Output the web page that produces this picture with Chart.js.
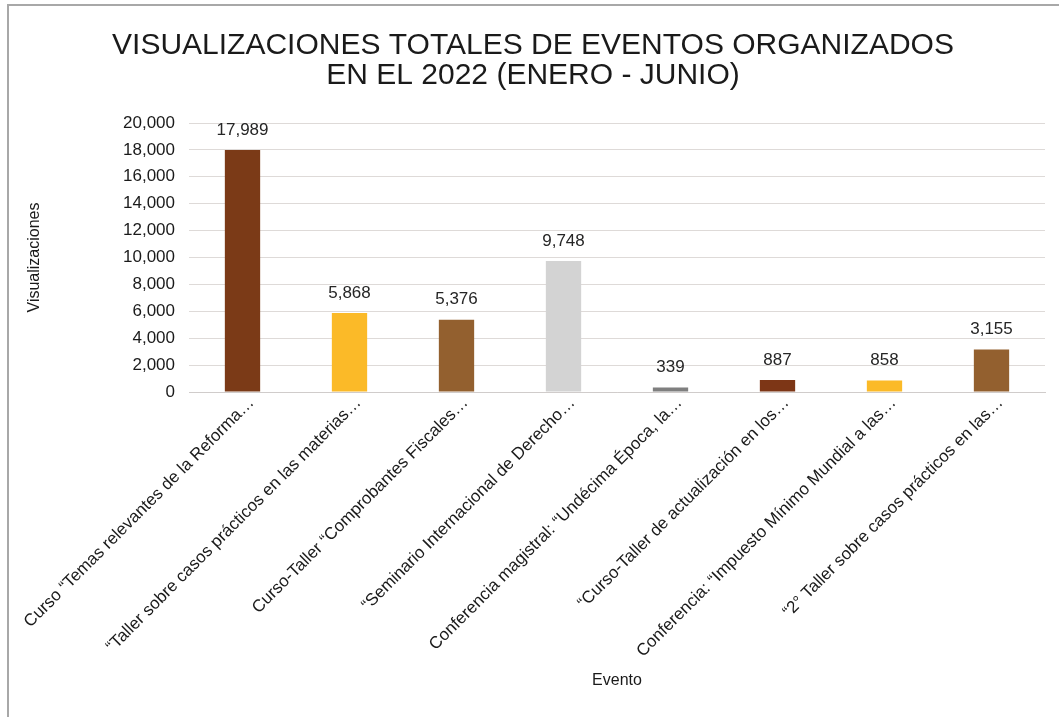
<!DOCTYPE html>
<html>
<head>
<meta charset="utf-8">
<script src="https://cdn.jsdelivr.net/npm/chart.js@4.4.0/dist/chart.umd.min.js"></script>
<style>
    body { margin: 0; background: #fff; }
    #frame {
        position: absolute; left: 7px; top: 4px; width: 1052px; height: 713px;
        border-left: 2px solid #a8a8a8; border-top: 2px solid #a8a8a8;
    }
    #chartEventos { display: block; }
</style>
</head>
<body>
<div id="frame">
    <canvas id="chartEventos" width="1050" height="711"></canvas>
</div>
<script>
const eventos = [
    'Curso \u201cTemas relevantes de la Reforma\u2026',
    '\u201cTaller sobre casos pr\u00e1cticos en las materias\u2026',
    'Curso-Taller \u201cComprobantes Fiscales\u2026',
    '\u201cSeminario Internacional de Derecho\u2026',
    'Conferencia magistral: \u201cUnd\u00e9cima \u00c9poca, la\u2026',
    '\u201cCurso-Taller de actualizaci\u00f3n en los\u2026',
    'Conferencia: \u201cImpuesto M\u00ednimo Mundial a las\u2026',
    '\u201c2\u00b0 Taller sobre casos pr\u00e1cticos en las\u2026'
];
const visualizaciones = [17989, 5868, 5376, 9748, 339, 887, 858, 3155];
const coloresBarras = ['#7b3a17', '#fbba28', '#93602f', '#d3d3d3', '#7f7f7f', '#7d3616', '#fbba28', '#93602f'];
const tituloLineas = ['VISUALIZACIONES TOTALES DE EVENTOS ORGANIZADOS', 'EN EL 2022 (ENERO - JUNIO)'];

const fmt = new Intl.NumberFormat('en-US');
const fontFam = '"Liberation Sans", Arial, sans-serif';

// draws the value above every bar
const valueLabels = {
    id: 'valueLabels',
    afterDatasetsDraw(chart) {
        const ctx = chart.ctx;
        const meta = chart.getDatasetMeta(0);
        ctx.save();
        ctx.font = '17px ' + fontFam;
        ctx.fillStyle = '#262626';
        ctx.textAlign = 'center';
        ctx.textBaseline = 'middle';
        meta.data.forEach((bar, i) => {
            ctx.fillText(fmt.format(visualizaciones[i]), bar.x, bar.y - 20);
        });
        ctx.restore();
    }
};

const ctx = document.getElementById('chartEventos');
new Chart(ctx, {
    type: 'bar',
    data: {
        labels: eventos,
        datasets: [{
            label: 'Visualizaciones',
            data: visualizaciones,
            backgroundColor: coloresBarras,
            barPercentage: 0.33,
            categoryPercentage: 1
        }]
    },
    plugins: [valueLabels],
    options: {
        responsive: false,
        animation: false,
        devicePixelRatio: 1,
        layout: { padding: { left: 12, right: 14, top: 0, bottom: 23 } },
        plugins: {
            legend: { display: false },
            tooltip: { enabled: false },
            title: {
                display: true,
                text: tituloLineas,
                color: '#1a1a1a',
                font: { family: fontFam, size: 30, weight: 'normal', lineHeight: 1.0 },
                padding: { top: 25, bottom: 32 }
            }
        },
        scales: {
            x: {
                grid: { display: false },
                border: { display: true, color: '#d0cccb', width: 1 },
                ticks: {
                    autoSkip: false,
                    maxRotation: 45,
                    minRotation: 45,
                    labelOffset: 9,
                    padding: -7,
                    color: '#1a1a1a',
                    font: { family: fontFam, size: 17 }
                },
                title: {
                    display: true,
                    text: 'Evento',
                    color: '#1a1a1a',
                    font: { family: fontFam, size: 16 }
                },
                afterFit(scale) { scale.height = 302; }
            },
            y: {
                min: 0,
                max: 20000,
                ticks: {
                    stepSize: 2000,
                    padding: 14,
                    color: '#1a1a1a',
                    font: { family: fontFam, size: 17 },
                    callback: (v) => fmt.format(v)
                },
                grid: { color: '#dedad8', drawTicks: false },
                border: { display: false },
                title: {
                    display: true,
                    text: 'Visualizaciones',
                    color: '#1a1a1a',
                    font: { family: fontFam, size: 16 }
                },
                afterFit(scale) { scale.width = 168; }
            }
        }
    }
});
</script>
</body>
</html>
